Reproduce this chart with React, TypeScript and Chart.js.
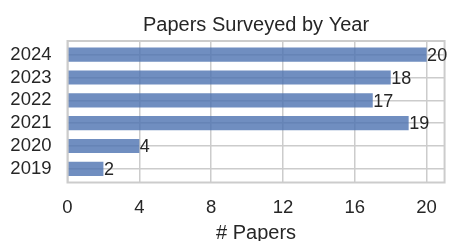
import React, { useEffect, useRef } from "react";
import { Chart, registerables } from "chart.js";

Chart.register(...registerables);

const years = ["2019", "2020", "2021", "2022", "2023", "2024"];
const papers = [2, 4, 19, 17, 18, 20];
const xTicks = [0, 4, 8, 12, 16, 20];
const titleText = "Papers Surveyed by Year";
const xLabel = "# Papers";

const FONT = "'Liberation Sans', Arial, Helvetica, sans-serif";
const TEXT = "#262626";
const GRID = "#cccccc";
const BAR = "rgba(76, 114, 176, 0.8)";

export default function App() {
  const ref = useRef<HTMLCanvasElement | null>(null);

  useEffect(() => {
    const canvas = ref.current;
    if (!canvas) return;

    const decor = {
      id: "decor",
      afterDatasetsDraw(chart: any) {
        const { ctx, chartArea } = chart;
        ctx.save();
        // frame
        ctx.strokeStyle = GRID;
        ctx.lineWidth = 2;
        ctx.strokeRect(
          chartArea.left,
          chartArea.top,
          chartArea.right - chartArea.left,
          chartArea.bottom - chartArea.top
        );
        // bar value labels
        const meta = chart.getDatasetMeta(0);
        ctx.fillStyle = TEXT;
        ctx.font = `18px ${FONT}`;
        ctx.textAlign = "left";
        ctx.textBaseline = "alphabetic";
        meta.data.forEach((el: any, i: number) => {
          ctx.fillText(String(papers[i]), el.x + 0.5, el.y + 6.3);
        });
        // title
        ctx.font = `20px ${FONT}`;
        ctx.textAlign = "center";
        ctx.fillText(titleText, (chartArea.left + chartArea.right) / 2, 31);
        ctx.restore();
      },
    };

    const chart = new Chart(canvas, {
      type: "bar",
      data: {
        datasets: [
          {
            data: papers.map((v, i) => ({ x: v, y: i })),
            backgroundColor: BAR,
            borderWidth: 0,
            barPercentage: 0.62,
            categoryPercentage: 1,
          },
        ],
      },
      options: {
        indexAxis: "y",
        responsive: false,
        animation: false,
        layout: { padding: { top: 41, right: 2, bottom: 0, left: 0 } },
        plugins: {
          legend: { display: false },
          title: { display: false },
          tooltip: { enabled: false },
        },
        scales: {
          y: {
            type: "linear",
            min: -0.6,
            max: 5.6,
            offset: false,
            afterBuildTicks: (s: any) => {
              s.ticks = years.map((_, i) => ({ value: i }));
            },
            afterFit: (s: any) => {
              s.width = 67.5;
            },
            ticks: {
              padding: 16,
              autoSkip: false,
              color: TEXT,
              font: { family: FONT, size: 18.5 },
              callback: (v: any) => years[Math.round(Number(v))] ?? "",
            },
            grid: { color: GRID, lineWidth: 1.5, drawTicks: false, offset: false },
            border: { display: false },
          },
          x: {
            type: "linear",
            min: 0,
            max: 21,
            offset: false,
            afterBuildTicks: (s: any) => {
              s.ticks = xTicks.map((v) => ({ value: v }));
            },
            afterFit: (s: any) => {
              s.height = 58.5;
            },
            ticks: {
              padding: 14,
              autoSkip: false,
              color: TEXT,
              font: { family: FONT, size: 18.5 },
              callback: (v: any) => String(v),
            },
            grid: { color: GRID, lineWidth: 1.5, drawTicks: false, offset: false },
            border: { display: false },
            title: {
              display: true,
              text: xLabel,
              color: TEXT,
              font: { family: FONT, size: 20, lineHeight: 1 },
              padding: { top: 0, bottom: -2.5 },
            },
          },
        },
      },
      plugins: [decor],
    });

    return () => chart.destroy();
  }, []);

  return (
    <div style={{ position: "fixed", left: 0, top: 0, width: 451, height: 241, background: "#fff" }}>
      <canvas ref={ref} width={451} height={241} style={{ display: "block" }} />
    </div>
  );
}
